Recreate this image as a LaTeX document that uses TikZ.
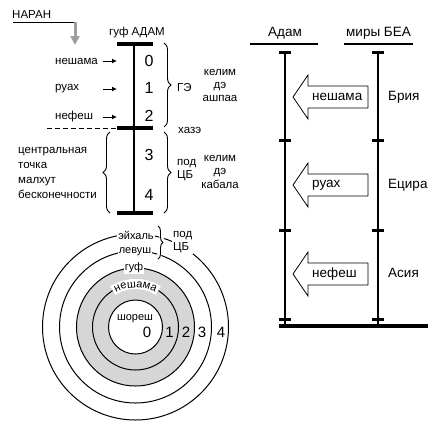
\documentclass[tikz,border=0pt]{standalone}
\usepackage{fontspec}
\setmainfont{Liberation Sans}
\usetikzlibrary{decorations.pathreplacing,decorations.text,arrows.meta,calc}
\begin{document}
\begin{tikzpicture}[x=1pt,y=1pt,
  lbl/.style={font=\fontsize{11.5}{13}\selectfont, inner sep=0pt},
  rlbl/.style={font=\fontsize{13.5}{15}\selectfont, inner sep=0pt},
  clbl/.style={font=\fontsize{11}{12}\selectfont, inner sep=1pt, fill=white},
  dig/.style={font=\fontsize{16}{16}\selectfont, inner sep=0pt},
  cdig/.style={font=\fontsize{15}{15}\selectfont, inner sep=0pt},
  bar/.style={line width=4pt},
  thinline/.style={line width=1.2pt},
  tickmark/.style={line width=3pt},
  sarrow/.style={line width=1pt, -{Latex[length=5pt,width=5pt]}},
  brc/.style={decorate, decoration={brace, amplitude=7pt}, line width=0.9pt},
  ring/.style={line width=1pt},
  blockarrow/.style={draw, fill=white, line width=0.8pt}
]
\useasboundingbox (0,0) rectangle (441,-432);

% ---------- НАРАН ----------
\node[lbl,anchor=west] (naran) at (12,-15) {НАРАН};
\coordinate (nA) at (13,-22);
\coordinate (nB) at (76,-22);
\coordinate (nC) at (75,-22);
\coordinate (nD) at (75,-45);
\draw[line width=0.9pt] (nA) -- (nB);
\draw[draw=black!38, line width=3pt, -{Triangle[width=9pt,length=9pt]}] (nC) -- (nD);

% ---------- column ----------
\node[lbl] (guf) at (137,-33) {гуф АДАМ};
\coordinate (a0) at (134,-44);
\coordinate (a1) at (134,-128);
\coordinate (a2) at (134,-213);
\draw[thinline] (a0) -- (a2);
\draw[bar] (117,-44) -- (153,-44);
\draw[bar] (117,-128) -- (153,-128);
\draw[bar] (117,-213) -- (153,-213);

\node[dig] (d0) at (149,-61) {0};
\node[dig] (d1) at (149,-88) {1};
\node[dig] (d2) at (149,-116) {2};
\node[dig] (d3) at (149,-155) {3};
\node[dig] (d4) at (149,-195) {4};

\node[lbl,anchor=west] (lnesh) at (55,-61) {нешама};
\node[lbl,anchor=west] (lruah) at (55,-89) {руах};
\node[lbl,anchor=west] (lnef) at (55,-117) {нефеш};
\coordinate (s1) at (103,-61); \coordinate (e1) at (117,-61);
\coordinate (s2) at (103,-89); \coordinate (e2) at (117,-89);
\coordinate (s3) at (103,-117); \coordinate (e3) at (117,-117);
\draw[sarrow] (s1) -- (e1);
\draw[sarrow] (s2) -- (e2);
\draw[sarrow] (s3) -- (e3);

\coordinate (dsA) at (47,-128);
\coordinate (dsB) at (117,-128);
\draw[line width=1pt, dash pattern=on 5pt off 3pt] (dsA) -- (dsB);

% braces
\coordinate (b1a) at (164,-43); \coordinate (b1b) at (164,-127);
\coordinate (b2a) at (164,-132); \coordinate (b2b) at (164,-213);
\coordinate (b3a) at (110,-213); \coordinate (b3b) at (110,-132);
\draw[brc] (b1a) -- (b1b);
\draw[brc] (b2a) -- (b2b);
\draw[brc] (b3a) -- (b3b);

\node[lbl,anchor=west] (ge) at (177,-88) {ГЭ};
\node[lbl,anchor=west] (haze) at (178,-130) {хазэ};
\node[lbl,anchor=west,align=left] (podcb) at (177,-170.5) {под\\ЦБ};
\node[lbl,align=center,font=\fontsize{11.5}{13}\selectfont] (kel1) at (220,-85) {келим\\дэ\\ашпаа};
\node[lbl,align=center,font=\fontsize{11.5}{13.5}\selectfont] (kel2) at (220,-171.5) {келим\\дэ\\кабала};
\node[lbl,anchor=west,align=left,font=\fontsize{11.5}{15}\selectfont] (cent) at (18,-172.5)
  {центральная\\точка\\малхут\\бесконечности};

% ---------- circles ----------
\coordinate (C) at (135.5,-327);
\fill[black!16, even odd rule] (C) circle[radius=59] (C) circle[radius=27];
\foreach \r in {27,43,59,76,93} \draw[ring] (C) circle[radius=\r];

\node[clbl] (eih) at (136,-235) {эйхаль};
\node[clbl] (levush) at (135,-252) {левуш};
\node[clbl] (gufc) at (134,-268) {гуф};
% curved нешама
\draw[white, line width=10pt] (C) ++(122:43) arc[start angle=122, end angle=58, radius=43];
\path[decorate, decoration={text along path, text align=center,
   text format delimiters={|}{|},
   text={|\fontsize{11}{11}\selectfont|нешама}}]
   (C) ++(128:39.5) arc[start angle=128, end angle=52, radius=39.5];
\node[font=\fontsize{11}{12}\selectfont, inner sep=0pt] (shoresh) at (135,-319) {шореш};

\node[cdig] (c0) at (147,-332) {0};
\node[cdig] (c1) at (169.5,-332) {1};
\node[cdig] (c2) at (186,-332) {2};
\node[cdig] (c3) at (202,-332) {3};
\node[cdig] (c4) at (221,-332) {4};

\coordinate (bc1) at (158,-226); \coordinate (bc2) at (158,-259);
\draw[white, line width=4pt] (158,-226) -- (163,-242) -- (158,-259);
\draw[decorate, decoration={brace, amplitude=5pt}, line width=0.9pt] (bc1) -- (bc2);
\node[lbl,anchor=west,align=left,fill=white,inner sep=1pt] (podcb2) at (172,-242) {под\\ЦБ};

% ---------- right diagram ----------
\node[rlbl] (adam) at (285,-33) {Адам};
\node[rlbl] (miry) at (378.5,-33) {миры БЕА};
\draw[line width=2pt] (250,-44) -- (318,-44);
\draw[line width=2pt] (344,-44) -- (413,-44);

\coordinate (Lt) at (285,-52); \coordinate (Lb) at (285,-326);
\coordinate (Rt) at (378,-52); \coordinate (Rb) at (378,-326);
\draw[thinline] (Lt) -- (Lb);
\draw[thinline] (Rt) -- (Rb);
\foreach \y in {52,140,230,319} {
  \draw[tickmark] (279,-\y) -- (291,-\y);
  \draw[tickmark] (372,-\y) -- (384,-\y);
}
\coordinate (bl1) at (279,-326); \coordinate (bl2) at (428,-326);
\draw[line width=3.5pt] (bl1) -- (bl2);

\foreach \y/\nm/\txt in {97/ba1/нешама,185/ba2/руах,274/ba3/нефеш} {
  \draw[blockarrow] (293,-\y) -- (308,-\y+22) -- (308,-\y+11) -- (368,-\y+11)
     -- (368,-\y-11) -- (308,-\y-11) -- (308,-\y-22) -- cycle;
  \node[rlbl,anchor=west] (\nm) at (312,-\y) {\txt};
}
\node[rlbl,anchor=west] (bria) at (388,-97) {Брия};
\node[rlbl,anchor=west] (ecira) at (388,-185) {Ецира};
\node[rlbl,anchor=west] (asia) at (388,-273) {Асия};
\end{tikzpicture}
\end{document}
